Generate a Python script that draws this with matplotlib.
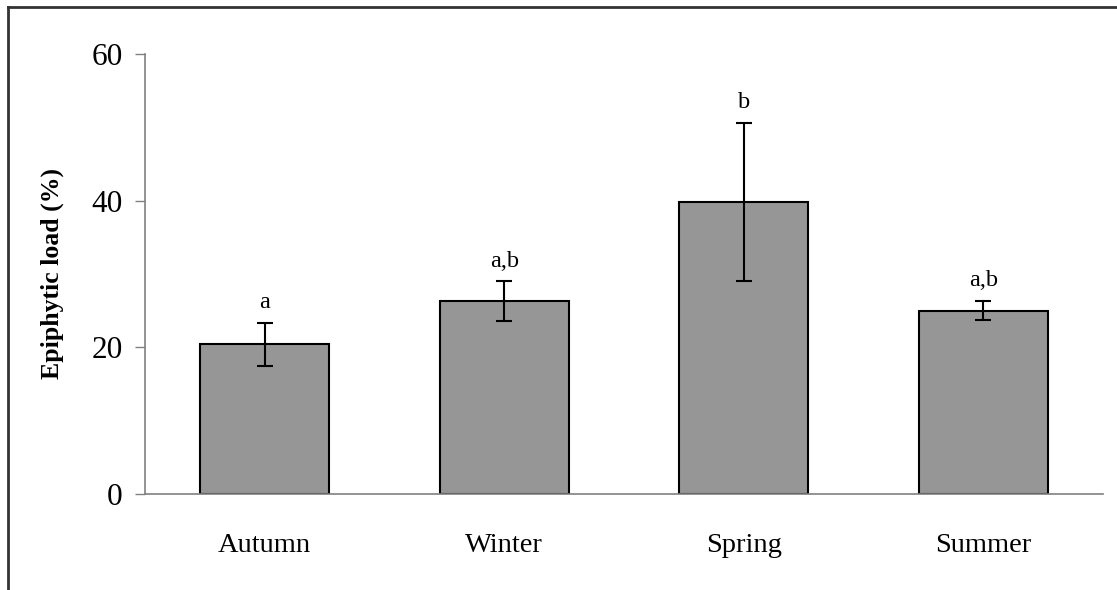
import matplotlib
matplotlib.use("Agg")
import matplotlib.pyplot as plt
from matplotlib.lines import Line2D

seasons = ["Autumn", "Winter", "Spring", "Summer"]
load_mean = [20.4, 26.3, 39.8, 25.0]
load_err = [2.9, 2.7, 10.8, 1.3]
letters = ["a", "a,b", "b", "a,b"]

plt.rcParams["font.family"] = ["Liberation Serif", "DejaVu Serif"]

fig = plt.figure(figsize=(11.17, 5.90), dpi=100)
ax = fig.add_axes([0.1298, 0.1627, 0.8577, 0.7458])

x = range(len(seasons))
ax.bar(x, load_mean, width=0.54, color="#969696", edgecolor="black", linewidth=1.5, zorder=2)
ax.errorbar(x, load_mean, yerr=load_err, fmt="none", ecolor="black",
            elinewidth=1.5, capsize=5.5, capthick=1.5, zorder=3)

for i, (m, e, lab) in enumerate(zip(load_mean, load_err, letters)):
    ax.annotate(lab, (i, m + e), xytext=(0, 7), textcoords="offset points",
                ha="center", va="bottom", fontsize=17.5)

ax.set_xlim(-0.5, len(seasons) - 0.5)
ax.set_ylim(0, 60)
ax.set_yticks([0, 20, 40, 60])
ax.set_xticks(list(x))
ax.set_xticklabels(seasons, fontsize=20.5)
ax.tick_params(axis="y", labelsize=22.5, length=7, width=1, color="#808080", direction="out", pad=9)
ax.tick_params(axis="x", length=0, pad=28)

for s in ["top", "right"]:
    ax.spines[s].set_visible(False)
for s in ["left", "bottom"]:
    ax.spines[s].set_color("#808080")
    ax.spines[s].set_linewidth(1.2)

ax.set_ylabel("Epiphytic load (%)", fontsize=18.5, fontweight="bold", labelpad=20)

# outer frame (top and left edges only, as in the source image)
fig.add_artist(Line2D([0.0075, 1.0], [0.988, 0.988], color="#333333", lw=2, transform=fig.transFigure))
fig.add_artist(Line2D([0.0075, 0.0075], [0.0, 0.988], color="#333333", lw=2, transform=fig.transFigure))

fig.savefig("out.png", dpi=100)
